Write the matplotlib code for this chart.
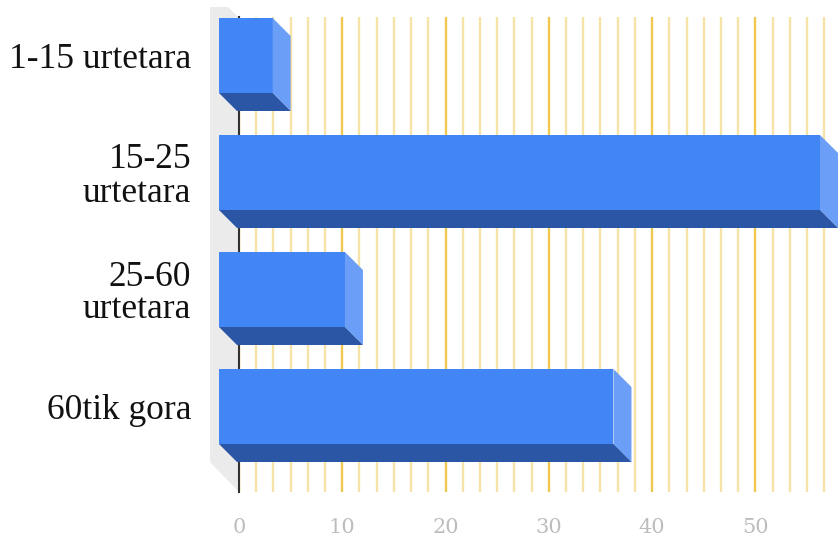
import matplotlib.pyplot as plt
from matplotlib.patches import Polygon
from matplotlib.ticker import MultipleLocator

categories = ["1-15 urtetara", "15-25\nurtetara", "25-60\nurtetara", "60tik gora"]
values = [5, 58, 12, 38]
xticks = [0, 10, 20, 30, 40, 50]

W, H = 838, 543
# plot area in pixels
x0, x1 = 239, 838
top, bot = 17, 492
px_x = (x1 - x0) / 58.0   # px for one unit
slot = 117.0              # px between bars
first_c = 55.5            # centre of first bar face

front_blue = "#4285f4"
side_blue = "#6a9ef7"
under_blue = "#2b55a5"
serif = "Liberation Serif"

fig = plt.figure(figsize=(W / 100, H / 100), dpi=100)
ax = fig.add_axes([x0 / W, 1 - bot / H, (x1 - x0) / W, (bot - top) / H])
ax.set_xlim(0, 58)
ax.set_ylim((bot - first_c) / slot, (top - first_c) / slot)

# depth of the fake 3d, in data units
dx = 18 / px_x
dy = 18 / slot
left = -20 / px_x
half = 37.5 / slot

# grey wall on the left
wall_l = -29 / px_x
wall_t = (7 - first_c) / slot
wall_b = (462 - first_c) / slot
ax.add_patch(Polygon([(wall_l, wall_t), (-11 / px_x, wall_t), (0, (18 - first_c) / slot),
                      (0, (492 - first_c) / slot), (wall_l, wall_b)],
                     closed=True, fc="#ebebeb", ec="none", clip_on=False, zorder=0))

ax.set_xticks(xticks)
ax.xaxis.set_minor_locator(MultipleLocator(10 / 6))
ax.grid(True, which="major", axis="x", color="#f1c84f", lw=1.7, zorder=1)
ax.grid(True, which="minor", axis="x", color="#f6e3a8", lw=1.7, zorder=1)
ax.set_axisbelow(True)

for s in ["top", "right", "bottom"]:
    ax.spines[s].set_visible(False)
ax.spines["left"].set_color("#333333")
ax.spines["left"].set_linewidth(1.5)
ax.spines["left"].set_zorder(1.5)

ypos = list(range(len(categories)))
ax.barh(ypos, [v - dx - left for v in values], left=left, height=2 * half,
        color=front_blue, clip_on=False, zorder=3)
for y, v in zip(ypos, values):
    r = v - dx
    t = y - half
    b = y + half
    ax.add_patch(Polygon([(r, t), (v, t + dy), (v, b + dy), (r, b)],
                         fc=side_blue, ec="none", clip_on=False, zorder=3))
    ax.add_patch(Polygon([(left, b), (r, b), (v, b + dy), (left + dx, b + dy)],
                         fc=under_blue, ec="none", clip_on=False, zorder=3))

ax.set_yticks(ypos)
ax.set_yticklabels(categories, fontsize=25.5, family=serif, color="#111111", linespacing=1.0)
ax.tick_params(axis="y", length=0, pad=34.5)
ax.set_xticklabels([str(t) for t in xticks], fontsize=15, family="DejaVu Serif", color="#bdbdbd")
ax.tick_params(axis="x", which="both", length=0, pad=19)

fig.savefig("out.png", dpi=100)
